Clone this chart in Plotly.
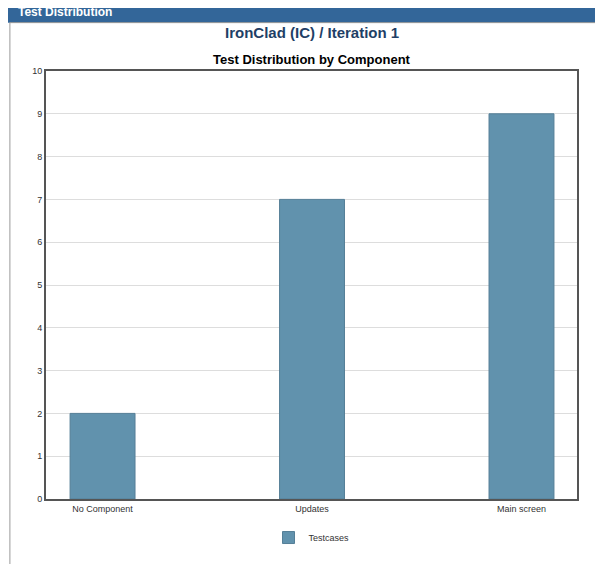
import plotly.graph_objects as go

components = ["No Component", "Updates", "Main screen"]
testcases = [2, 7, 9]

fig = go.Figure(go.Bar(
    x=components, y=testcases, name="Testcases",
    marker=dict(color="#6192ad", line=dict(color="#557f97", width=1)),
    width=0.31, showlegend=True))

fig.update_layout(
    width=603, height=564,
    margin=dict(l=38, r=34, t=63, b=73),
    paper_bgcolor="white", plot_bgcolor="white",
    font=dict(family="Arial, Liberation Sans", size=10, color="#333"),
    xaxis=dict(showline=True, linecolor="#555", linewidth=2, mirror=True,
               ticks="", tickfont=dict(size=9), range=[-0.27, 2.265]),
    yaxis=dict(range=[0, 10], dtick=1, showline=True, linecolor="#555", linewidth=2,
               mirror=True, gridcolor="#dddddd", ticks="", tickfont=dict(size=9),
               zeroline=False),
    legend=dict(orientation="h", x=0.5, xanchor="center", y=-0.09, yanchor="middle",
                font=dict(size=9)),
    shapes=[
        dict(type="rect", xref="paper", yref="paper", x0=-0.072, x1=1.05, y0=1.18, y1=1.113,
             fillcolor="#336699", line_width=0, layer="below"),
        dict(type="rect", xref="paper", yref="paper", x0=-0.068, x1=1.043, y0=1.113, y1=-0.155,
             fillcolor="rgba(0,0,0,0)", line=dict(color="#999", width=1)),
    ],
    annotations=[
        dict(text="<b>Test Distribution</b>", xref="paper", yref="paper", x=-0.056, y=1.138,
             xanchor="left", yanchor="middle", showarrow=False,
             font=dict(color="white", size=12)),
        dict(text="<b>IronClad (IC) / Iteration 1</b>", xref="paper", yref="paper", x=0.5,
             y=1.089, xanchor="center", yanchor="middle", showarrow=False,
             font=dict(color="#1f3f66", size=15)),
        dict(text="<b>Test Distribution by Component</b>", xref="paper", yref="paper", x=0.5,
             y=1.028, xanchor="center", yanchor="middle", showarrow=False,
             font=dict(color="black", size=13)),
    ],
)

fig.write_html("out.html")
